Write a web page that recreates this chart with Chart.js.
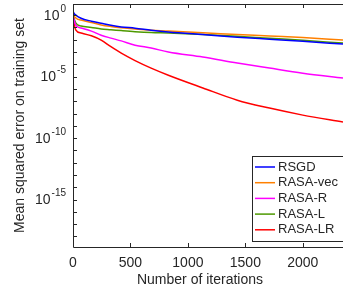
<!DOCTYPE html>
<html>
<head>
<meta charset="utf-8">
<script src="https://cdn.jsdelivr.net/npm/chart.js@4"></script>
<style>
  html, body { margin: 0; padding: 0; background: #fff; }
  #wrap { width: 343px; height: 293px; }
</style>
</head>
<body>
<div id="wrap"><canvas id="chart"></canvas></div>
<script>
const iterations = [0, 5, 25, 70, 160, 245, 330, 420, 540, 680, 830, 1130, 1430, 1710, 2000, 2350];

const rsgd    = [2.5, 1.6, 1.0, 0.55, 0.32, 0.22, 0.15, 0.11, 0.087, 0.06, 0.043, 0.026, 0.016, 0.011, 0.0075, 0.0044];
const rasaVec = [2.5, 1.2, 0.58, 0.4, 0.25, 0.16, 0.12, 0.095, 0.075, 0.06, 0.05, 0.036, 0.027, 0.02, 0.015, 0.0093];
const rasaR   = [2.5, 0.8, 0.15, 0.09, 0.05, 0.023, 0.0135, 0.008, 0.0036, 0.0021, 0.001, 3.9e-4, 1.26e-4, 4.9e-5, 1.9e-5, 7.6e-6];
const rasaL   = [2.5, 0.9, 0.22, 0.13, 0.1, 0.075, 0.065, 0.055, 0.045, 0.038, 0.035, 0.027, 0.019, 0.013, 0.009, 0.0053];
const rasaLR  = [2.5, 0.5, 0.06, 0.035, 0.021, 0.0093, 0.0027, 8e-4, 2e-4, 4.9e-5, 1.3e-5, 1.2e-6, 1.2e-7, 2.75e-8, 7.4e-9, 2e-9];

const seriesNames = ['RSGD', 'RASA-vec', 'RASA-R', 'RASA-L', 'RASA-LR'];
const seriesColors = ['#0000ff', '#ff8000', '#ff00ff', '#4d9900', '#ff0000'];

const xTicks = [0, 500, 1000, 1500, 2000];
const yMajorExp = [0, -5, -10, -15];
const xTitle = 'Number of iterations';

const INK = '#262626';
const FONT = '"Liberation Sans", Arial, sans-serif';

function toPoints(vals) {
  return vals.map((v, i) => ({ x: iterations[i], y: v }));
}

// inward tick marks, box lines, power-of-ten labels and the legend, MATLAB style
const axesDecor = {
  id: 'axesDecor',
  afterDraw(chart) {
    const ctx = chart.ctx;
    const a = chart.chartArea;
    const xs = chart.scales.x, ys = chart.scales.y;
    ctx.save();
    ctx.strokeStyle = INK;
    ctx.lineWidth = 1;
    ctx.beginPath();
    ctx.moveTo(a.left + 0.5, a.top + 0.5);
    ctx.lineTo(a.left + 0.5, a.bottom + 0.5);
    ctx.lineTo(a.right, a.bottom + 0.5);
    ctx.moveTo(a.left + 0.5, a.top + 0.5);
    ctx.lineTo(a.right, a.top + 0.5);
    xTicks.forEach(t => {
      const px = Math.round(xs.getPixelForValue(t)) + 0.5;
      ctx.moveTo(px, a.bottom); ctx.lineTo(px, a.bottom - 4);
      ctx.moveTo(px, a.top); ctx.lineTo(px, a.top + 4);
    });
    for (let e = 0; e >= -19; e--) {
      const py = Math.round(ys.getPixelForValue(Math.pow(10, e))) + 0.5;
      if (py < a.top || py > a.bottom) continue;
      ctx.moveTo(a.left, py); ctx.lineTo(a.left + 4, py);
    }
    ctx.stroke();

    // y labels: 10 with raised exponent
    ctx.fillStyle = INK;
    ctx.textBaseline = 'middle';
    yMajorExp.forEach(e => {
      const py = ys.getPixelForValue(Math.pow(10, e));
      const expText = e === 0 ? '0' : '-' + Math.abs(e);
      ctx.font = '10px ' + FONT;
      const ew = ctx.measureText(expText).width;
      ctx.textAlign = 'right';
      ctx.fillText(expText, a.left - 7, py - 6);
      ctx.font = '14px ' + FONT;
      ctx.fillText('10', a.left - 8 - ew, py + 1);
    });

    // x title, centred as in the original figure
    ctx.font = '14px ' + FONT;
    ctx.textAlign = 'center';
    ctx.fillText(xTitle, 200, 280);

    // legend box
    const lx = 252, ly = 156, lw = 100, lh = 85;
    ctx.fillStyle = '#fff';
    ctx.fillRect(lx, ly, lw, lh);
    ctx.strokeStyle = INK;
    ctx.lineWidth = 1;
    ctx.strokeRect(lx + 0.5, ly + 0.5, lw, lh);
    ctx.font = '13px ' + FONT;
    ctx.textAlign = 'left';
    chart.data.datasets.forEach((ds, i) => {
      const y = ly + 11 + i * 15.7;
      ctx.strokeStyle = ds.borderColor;
      ctx.lineWidth = 1.5;
      ctx.beginPath();
      ctx.moveTo(lx + 3, y); ctx.lineTo(lx + 23, y);
      ctx.stroke();
      ctx.fillStyle = INK;
      ctx.fillText(ds.label, lx + 26, y);
    });
    ctx.restore();
  }
};

const allSeries = [rsgd, rasaVec, rasaR, rasaL, rasaLR];

new Chart(document.getElementById('chart'), {
  type: 'line',
  data: {
    datasets: allSeries.map((vals, i) => ({
      label: seriesNames[i],
      data: toPoints(vals),
      borderColor: seriesColors[i],
      borderWidth: 1.5,
      pointRadius: 0,
      cubicInterpolationMode: 'monotone',
      fill: false
    }))
  },
  options: {
    responsive: true,
    maintainAspectRatio: false,
    animation: false,
    layout: { padding: { top: 4, right: 0, bottom: 0, left: 0 } },
    plugins: { legend: { display: false }, tooltip: { enabled: false } },
    scales: {
      x: {
        type: 'linear',
        min: 0,
        max: 2350,
        afterBuildTicks: s => { s.ticks = xTicks.map(v => ({ value: v })); },
        afterFit: s => { s.height = 46; },
        grid: { display: false, tickLength: 8 },
        border: { display: false },
        ticks: {
          padding: 0, color: INK, font: { family: FONT, size: 14 }, maxRotation: 0,
          callback: v => String(v)
        }
      },
      y: {
        type: 'logarithmic',
        min: 1.4e-19,
        max: 8,
        afterBuildTicks: s => { s.ticks = yMajorExp.map(e => ({ value: Math.pow(10, e) })); },
        afterFit: s => { s.width = 73; },
        grid: { display: false, tickLength: 8 },
        border: { display: false },
        ticks: { display: false },
        title: {
          display: true,
          text: 'Mean squared error on training set',
          color: INK,
          font: { family: FONT, size: 14 },
          padding: { top: 12, bottom: 0 }
        }
      }
    }
  },
  plugins: [axesDecor]
});
</script>
</body>
</html>
